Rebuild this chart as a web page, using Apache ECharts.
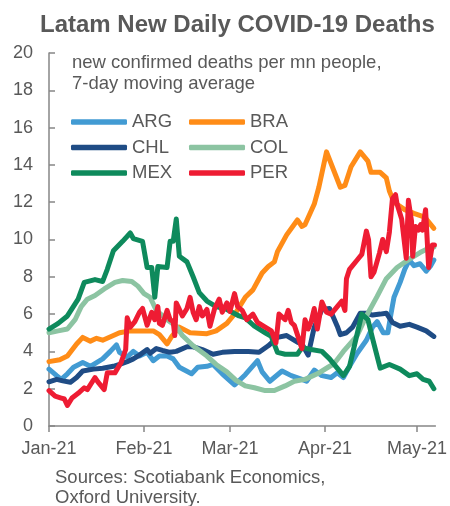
<!DOCTYPE html>
<html>
<head>
<meta charset="utf-8">
<script src="https://cdn.jsdelivr.net/npm/echarts@6/dist/echarts.min.js"></script>
<style>
  html, body { margin: 0; padding: 0; background: #fff; }
  #chart { width: 450px; height: 506px; }
</style>
</head>
<body>
<div id="chart"></div>
<script>
// x values are days counted from 1 Jan 2021, y values deaths per mn people
const argDays = [0,2.5,4,6,8,11,13.5,15.5,17.5,20,22,23,25.5,27.5,29.5,32,34,36,38.5,40.5,42.5,46.5,48.5,51.5,53.5,56.5,60.5,64,68,69.5,72,76,79,82.5,84,86.5,89,92,94,96,98,100.5,103.5,105.5,107,109,110.5,111.5,112.5,114.5,116,117.5,119,121,123,124.5,125.5];
const argValues = [3.05,2.7,2.5,2.8,3.15,3.4,3.2,3.4,3.6,4.0,4.35,3.95,3.7,4.0,3.75,3.95,3.5,3.75,3.75,3.6,3.15,2.8,3.15,3.2,3.3,2.8,2.2,2.75,3.5,2.9,2.4,2.95,2.7,2.5,2.4,3.0,2.7,2.6,2.85,2.6,3.2,3.9,4.6,5.3,5.6,5.0,5.0,6.0,6.9,7.7,8.4,8.9,8.6,8.7,8.3,8.6,8.9];

const braDays = [0,3.5,6,9,11,13.5,15.5,17.5,21,23,26.5,29.5,34,36,38.5,40,42.5,46,51.5,54.5,58,61,64,66.5,69.5,71.5,73.5,74.5,77.5,81,82.5,83.5,86.5,88,90.5,95,96.5,98.5,101.5,104,105,108,110,111,112.5,116,119,122.5,125.5];
const braValues = [3.45,3.55,3.75,4.4,4.75,4.55,4.7,4.6,4.85,5.0,5.1,5.1,5.1,4.9,4.4,4.8,5.3,5.0,4.95,5.1,5.5,6.1,6.9,7.3,8.2,8.55,8.8,9.35,10.25,11.05,10.7,10.8,11.9,12.8,14.7,12.8,12.9,13.9,14.7,14.2,13.6,13.6,13.3,12.6,12.0,11.6,11.4,11.2,10.6];

const chlDays = [0,2.5,4.5,7,9,11,14.5,17.5,21,23,25.5,27.5,29.5,32,33,35,37,39.5,41.5,45,47,50,53.5,56.5,60.5,65,68.5,71.5,74.5,77.5,81,82.5,84.5,86.5,89,91.5,94,95,97,99,101.5,103.5,105.5,108,110,112,114.5,117.5,120,123,125.5];
const chlValues = [2.37,2.5,2.42,2.35,2.6,2.95,3.05,3.1,3.2,3.3,3.45,3.6,3.8,4.1,3.9,4.15,4.05,3.95,4.0,4.25,4.25,4.1,3.85,3.95,4.0,4.0,3.95,4.3,4.75,4.85,4.5,4.4,3.8,5.3,6.25,6.3,5.35,4.9,5.0,5.3,6.05,6.05,5.95,6.0,6.05,5.55,5.35,5.45,5.3,5.1,4.8];

const colDays = [0,3,6,8.5,10.5,12.5,15,18,21.5,24,27,29,31,33,35,38.5,41.5,43.5,47,51.5,54.5,58,61,64,67,70.5,73.5,77,80,83.5,87.5,91,93,96,100.5,103.5,107,110,113.5,117.5,121,124,125.5];
const colValues = [5.0,5.1,5.2,5.7,6.4,6.8,7.0,7.35,7.7,7.8,7.75,7.5,7.1,6.9,6.2,5.7,5.35,4.85,4.3,3.75,3.3,2.9,2.45,2.15,2.05,1.9,1.9,2.15,2.4,2.5,2.8,3.15,3.35,4.0,4.85,5.9,6.95,7.9,8.5,8.95,9.3,9.55,9.6];

const mexDays = [0,3,6,9.5,11.5,15,17.5,19,21,24,26.5,27.5,30.5,32,33.5,34.5,35.5,38.5,39.5,40.5,41.5,42.5,45,47,49,51.5,54.5,58,62,64,67,70.5,72.5,74.5,77,81,82.5,85.5,89,91.5,96,98,102,104,105.5,108,111,114.5,117.5,120,122,124,125.5];
const mexValues = [5.2,5.5,5.9,6.8,7.7,7.85,7.75,8.4,9.4,9.9,10.35,10.05,9.9,8.5,8.5,6.9,8.55,8.5,9.9,9.9,11.1,9.1,8.8,8.0,7.15,6.7,6.4,6.25,5.9,5.8,5.35,5.0,4.8,3.95,3.85,3.85,4.2,4.1,4.0,3.6,2.7,3.2,6.0,5.7,4.7,3.1,3.3,3.05,2.7,2.8,2.5,2.4,2.0];

const perDays = [0,2,4,5,6,7.5,9.5,11.5,12.5,15,16,18,19,21.5,23.5,25,25.5,26.5,28,29.5,30.5,32,33.5,34.5,35.5,36,37,38.5,39.5,40.5,41,41.5,42.5,43.5,45,46,47,48,49,50,51.5,52.5,54,55.5,56.5,58,59,60.5,61.5,63,64.5,66.5,68,70.5,72.5,74,75,77,78,79,80,82.5,83.5,84.5,85.5,86.5,87.5,89,90.5,92,94,95.5,96.5,97,98,100.5,102,103.5,104.2,105,106,107.8,108.8,110,111,112,113,113.5,115,116.5,117.2,118.2,118.6,119.5,120.5,121.2,121.8,122.8,123.8,125,125.7];
const perValues = [1.9,1.6,1.5,1.45,1.1,1.5,1.75,2.05,1.95,2.6,2.35,1.95,2.85,2.85,3.4,4.1,5.8,5.3,5.6,6.1,6.3,5.4,6.1,5.7,6.4,5.5,5.4,6.2,5.7,5.6,4.85,6.6,6.25,5.9,6.3,6.9,6.1,5.7,6.4,5.9,6.25,5.35,6.3,6.8,6.1,6.6,6.15,7.1,6.4,6.2,5.7,6.0,5.55,5.3,5.1,4.45,6.0,5.7,6.2,5.55,5.4,4.15,5.7,5.2,5.6,6.3,5.2,6.65,6.1,6.0,6.4,6.7,6.2,7.9,8.4,8.9,9.2,10.45,10.0,8.0,8.25,9.3,10.0,9.35,10.4,12.2,12.4,11.9,11.1,9.0,12.1,11.0,9.1,10.7,10.5,10.8,10.5,11.6,8.5,9.7,9.7];

const countries = ['ARG', 'BRA', 'CHL', 'COL', 'MEX', 'PER'];
const monthStarts = ['2021-01-01', '2021-02-01', '2021-03-01', '2021-04-01', '2021-05-01'];
const monthLabels = ['Jan-21', 'Feb-21', 'Mar-21', 'Apr-21', 'May-21'];

const palette = ['#429BD3', '#FF8C17', '#1F4C85', '#8CC4A2', '#0E8A5C', '#EE1C33'];
const FONT = '"Liberation Sans", Arial, sans-serif';
const TEXT = '#595959';
const AXIS = '#868686';

const DAY = 86400000;
const start = Date.parse(monthStarts[0]);
// month starts as day numbers on the x axis
const monthDays = monthStarts.map(s => Math.round((Date.parse(s) - start) / DAY));

function toPoints(days, values) {
    return days.map((d, i) => [d, values[i]]);
}

const seriesData = {
    ARG: toPoints(argDays, argValues),
    BRA: toPoints(braDays, braValues),
    CHL: toPoints(chlDays, chlValues),
    COL: toPoints(colDays, colValues),
    MEX: toPoints(mexDays, mexValues),
    PER: toPoints(perDays, perValues)
};

const chart = echarts.init(document.getElementById('chart'));

const legendBase = {
    orient: 'vertical',
    top: 112,
    padding: 0,
    icon: 'roundRect',
    itemWidth: 56,
    itemHeight: 5.5,
    itemGap: 5.5,
    selectedMode: false,
    textStyle: { fontFamily: FONT, fontSize: 18.5, color: TEXT, lineHeight: 20 }
};

var option = {
    animation: false,
    color: palette,
    textStyle: { fontFamily: FONT },
    title: [
        {
            text: 'Latam New Daily COVID-19 Deaths',
            left: 40,
            top: 11,
            padding: 0,
            textStyle: { fontFamily: FONT, fontSize: 24, fontWeight: 'bold', color: TEXT, lineHeight: 28 }
        },
        {
            text: 'new confirmed deaths per mn people,\n7-day moving average',
            left: 72,
            top: 52.5,
            padding: 0,
            textStyle: { fontFamily: FONT, fontSize: 18.5, fontWeight: 'normal', color: TEXT, lineHeight: 21 }
        },
        {
            text: 'Sources: Scotiabank Economics,\nOxford University.',
            left: 55,
            top: 468,
            padding: 0,
            textStyle: { fontFamily: FONT, fontSize: 18.5, fontWeight: 'normal', color: TEXT, lineHeight: 20 }
        }
    ],
    legend: [
        Object.assign({}, legendBase, { left: 71, data: ['ARG', 'CHL', 'MEX'] }),
        Object.assign({}, legendBase, { left: 189, data: ['BRA', 'COL', 'PER'] })
    ],
    grid: { left: 49, right: 14, top: 53, bottom: 80 },
    xAxis: {
        type: 'value',
        min: 0,
        max: 126,
        axisLine: { lineStyle: { color: AXIS, width: 1.5 } },
        axisTick: {
            show: true,
            inside: false,
            length: 6,
            customValues: monthDays,
            lineStyle: { color: AXIS, width: 1.5 }
        },
        axisLabel: {
            customValues: monthDays,
            formatter: function (value) {
                const i = monthDays.indexOf(Math.round(value));
                return i >= 0 ? monthLabels[i] : '';
            },
            fontFamily: FONT,
            fontSize: 18,
            color: TEXT,
            margin: 14
        },
        splitLine: { show: false }
    },
    yAxis: {
        type: 'value',
        min: 0,
        max: 20,
        interval: 2,
        axisLine: { show: true, lineStyle: { color: AXIS, width: 1.5 } },
        axisTick: { show: true, inside: true, length: 6, lineStyle: { color: AXIS, width: 1.5 } },
        axisLabel: { fontFamily: FONT, fontSize: 18, color: TEXT, margin: 16 },
        splitLine: { show: false }
    },
    series: countries.map(name => ({
        name: name,
        type: 'line',
        data: seriesData[name],
        showSymbol: false,
        symbol: 'none',
        lineStyle: { width: 5, cap: 'round', join: 'round' }
    }))
};

option && chart.setOption(option);
</script>
</body>
</html>
